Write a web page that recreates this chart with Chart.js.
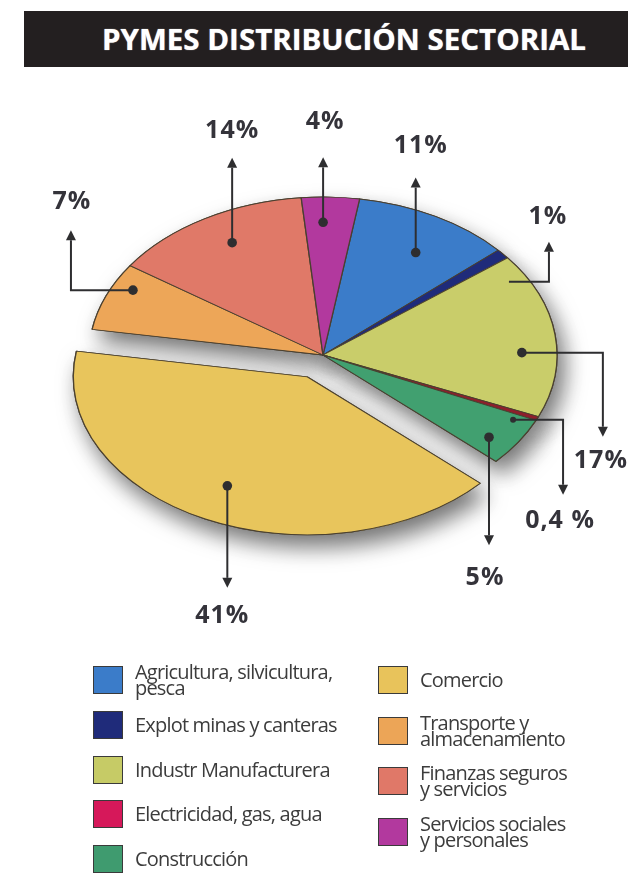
<!DOCTYPE html>
<html>
<head>
<meta charset="utf-8">
<script src="https://cdn.jsdelivr.net/npm/chart.js@4.4.1/dist/chart.umd.min.js"></script>
<style>
  html, body { margin: 0; padding: 0; background: #ffffff; }
  #wrap { position: relative; width: 628px; height: 877px; overflow: hidden; background: #fff; }
  #bar { position: absolute; left: 24px; top: 11px; width: 604px; height: 56px; background: #231f20; }
  #title { position: absolute; left: 102px; top: 22px; margin: 0; color: #ffffff; font: 700 28px 'Open Sans', sans-serif;
           line-height: 34px; white-space: nowrap; transform-origin: 0 50%; text-shadow: 0 0 1px #ddd; }
  #cv { position: absolute; left: 0; top: 0; }
  .lg { position: absolute; display: flex; align-items: center; height: 28px; }
  .sw { width: 28px; height: 26px; border: 1.5px solid #3a3a3a; box-sizing: content-box; flex: none; }
  .tx { margin-left: 12px; font: 400 20px 'Open Sans', sans-serif; color: #3c3c3c; line-height: 16px;
        white-space: pre-line; letter-spacing: -0.8px; }
</style>
</head>
<body>
<div id="wrap">
  <div id="bar"></div>
  <h1 id="title">PYMES DISTRIBUCIÓN SECTORIAL</h1>
  <canvas id="cv" width="628" height="877" style="width:628px;height:877px"></canvas>
  <div id="legend"></div>
</div>
<script>
// ---------------- data ----------------
const categories = [
  'Agricultura, silvicultura,\npesca',
  'Explot minas y canteras',
  'Industr Manufacturera',
  'Electricidad, gas, agua',
  'Construcción',
  'Comercio',
  'Transporte y\nalmacenamiento',
  'Finanzas seguros\ny servicios',
  'Servicios sociales\ny personales'
];
const shares = [11, 1, 17, 0.4, 5, 41, 7, 14, 4];
const shareLabels = ['11%', '1%', '17%', '0,4 %', '5%', '41%', '7%', '14%', '4%'];
const colors = ['#3b7cc9', '#1f2b7a', '#c6cb66', '#d6185a', '#3f9b6f', '#e8c35b', '#eca557', '#e07868', '#b2399e'];
const pieColors = ['#3b7cc9', '#1f2b7a', '#c9cd6a', '#8e1f2c', '#41a070', '#e8c55c', '#eda658', '#e07968', '#b2399e'];
const explodedCategory = 'Comercio';

// ---------------- style / layout ----------------
const K = 0.675;          // vertical squash of the pie (ellipse)
const EXPLODE = 36;       // pull-out distance of exploded slice
// leader lines: angle tweak (deg), radial fraction, dot?, path segments (px), label offset from tip
const leaders = [
  { ang: 2.7,  rf: 0.76, dot: true,  path: [[0, -75]],          lab: [5, -32] },
  { ang: 9.5,  rf: 0.92, dot: false, path: [[40, 0], [0, -40]], lab: [-1, -25] },
  { ang: 6.5,  rf: 0.85, dot: true,  path: [[81, 0], [0, 84]],  lab: [-2, 24] },
  { ang: 3.1,  rf: 0.91, dot: 'small', path: [[50, 0], [0, 75]], lab: [-3, 26] },
  { ang: 2.9,  rf: 0.88, dot: true,  path: [[0, 108]],          lab: [-4, 33] },
  { ang: 0.5,  rf: 0.77, dot: true,  path: [[0, 102]],          lab: [-5, 28] },
  { ang: 4.9,  rf: 0.91, dot: true,  path: [[-62, 0], [0, -60]], lab: [1, -28] },
  { ang: 1.8,  rf: 0.81, dot: true,  path: [[0, -85]],          lab: [0, -27] },
  { ang: -1.8, rf: 0.84, dot: true,  path: [[0, -65]],          lab: [2, -35] }
];

// ---------------- title fit ----------------
const t = document.getElementById('title');
t.style.transform = 'scaleX(' + (484 / t.offsetWidth) + ')';

// ---------------- legend (HTML) ----------------
const legendCols = [
  { x: 93, top: 666, step: 44.8, items: [0, 1, 2, 3, 4] },
  { x: 378, top: 666, step: 50.7, items: [5, 6, 7, 8] }
];
const lgRoot = document.getElementById('legend');
legendCols.forEach(col => {
  col.items.forEach((idx, r) => {
    const d = document.createElement('div');
    d.className = 'lg';
    d.style.left = col.x + 'px';
    d.style.top = (col.top + r * col.step) + 'px';
    const sw = document.createElement('div');
    sw.className = 'sw';
    sw.style.background = colors[idx];
    const tx = document.createElement('div');
    tx.className = 'tx';
    tx.textContent = categories[idx];
    d.appendChild(sw); d.appendChild(tx);
    lgRoot.appendChild(d);
  });
});

// ---------------- plugins ----------------
let center = null;
const explodeIdx = categories.indexOf(explodedCategory);

const ellipsePlugin = {
  id: 'ellipse',
  beforeDatasetsDraw(chart) {
    const meta = chart.getDatasetMeta(0);
    const a0 = meta.data[0];
    center = { x: a0.x, y: a0.y };
    const ex = meta.data[explodeIdx];
    const mid = (ex.startAngle + ex.endAngle) / 2;
    ex._ox = ex.x; ex._oy = ex.y;
    ex.x = ex.x + Math.cos(mid) * EXPLODE;
    ex.y = ex.y + Math.sin(mid) * EXPLODE;
    const ctx = chart.ctx;
    // shadow pass
    ctx.save();
    ctx.translate(0, center.y); ctx.scale(1, K); ctx.translate(0, -center.y);
    ctx.shadowColor = 'rgba(0,0,0,0.55)';
    ctx.shadowBlur = 22;
    ctx.shadowOffsetX = 7;
    ctx.shadowOffsetY = 12;
    meta.data.forEach(a => a.draw(ctx));
    ctx.restore();
    // squash for the real pass
    ctx.save();
    ctx.translate(0, center.y); ctx.scale(1, K); ctx.translate(0, -center.y);
  },
  afterDatasetsDraw(chart) {
    chart.ctx.restore();
  }
};

const leaderPlugin = {
  id: 'leaders',
  afterDraw(chart) {
    const ctx = chart.ctx;
    const meta = chart.getDatasetMeta(0);
    const toScreen = (px, py) => [px, center.y + (py - center.y) * K];
    ctx.save();
    ctx.strokeStyle = '#2e2e30';
    ctx.fillStyle = '#2e2e30';
    ctx.lineWidth = 2;
    meta.data.forEach((a, i) => {
      const L = leaders[i];
      const ang = (a.startAngle + a.endAngle) / 2 + L.ang * Math.PI / 180;
      const r = a.outerRadius * L.rf;
      let [x, y] = toScreen(a.x + Math.cos(ang) * r, a.y + Math.sin(ang) * r);
      if (L.dot) {
        ctx.beginPath();
        ctx.arc(x, y, L.dot === 'small' ? 3 : 4.8, 0, Math.PI * 2);
        ctx.fill();
      }
      const pts = [[x, y]];
      L.path.forEach(([dx, dy]) => { x += dx; y += dy; pts.push([x, y]); });
      // arrow head
      const [px, py] = pts[pts.length - 2];
      const len = Math.hypot(x - px, y - py);
      const ux = (x - px) / len, uy = (y - py) / len;
      const AH = 10, AW = 5;
      const bx = x - ux * AH, by = y - uy * AH;
      ctx.beginPath();
      ctx.moveTo(pts[0][0], pts[0][1]);
      for (let k = 1; k < pts.length - 1; k++) ctx.lineTo(pts[k][0], pts[k][1]);
      ctx.lineTo(bx, by);
      ctx.stroke();
      ctx.beginPath();
      ctx.moveTo(x, y);
      ctx.lineTo(bx - uy * AW, by + ux * AW);
      ctx.lineTo(bx + uy * AW, by - ux * AW);
      ctx.closePath();
      ctx.fill();
      // label
      ctx.save();
      ctx.font = '700 25px "Open Sans", sans-serif';
      ctx.letterSpacing = '1px';
      ctx.textAlign = 'center';
      ctx.textBaseline = 'middle';
      ctx.fillStyle = '#34333a';
      ctx.fillText(shareLabels[i], x + L.lab[0], y + L.lab[1]);
      ctx.restore();
    });
    ctx.restore();
    const ex = meta.data[explodeIdx];
    if (ex._ox !== undefined) { ex.x = ex._ox; ex.y = ex._oy; }
  }
};

new Chart(document.getElementById('cv').getContext('2d'), {
  type: 'pie',
  data: {
    labels: categories,
    datasets: [{
      data: shares,
      backgroundColor: pieColors,
      borderColor: '#4a4030',
      borderWidth: 1.3,
      clip: false
    }]
  },
  options: {
    responsive: false,
    animation: false,
    events: [],
    rotation: 9,
    radius: 234,
    layout: { padding: { left: 18, right: 0, top: 0, bottom: 167 } },
    plugins: { legend: { display: false }, tooltip: { enabled: false }, title: { display: false } }
  },
  plugins: [ellipsePlugin, leaderPlugin]
});
</script>
</body>
</html>
